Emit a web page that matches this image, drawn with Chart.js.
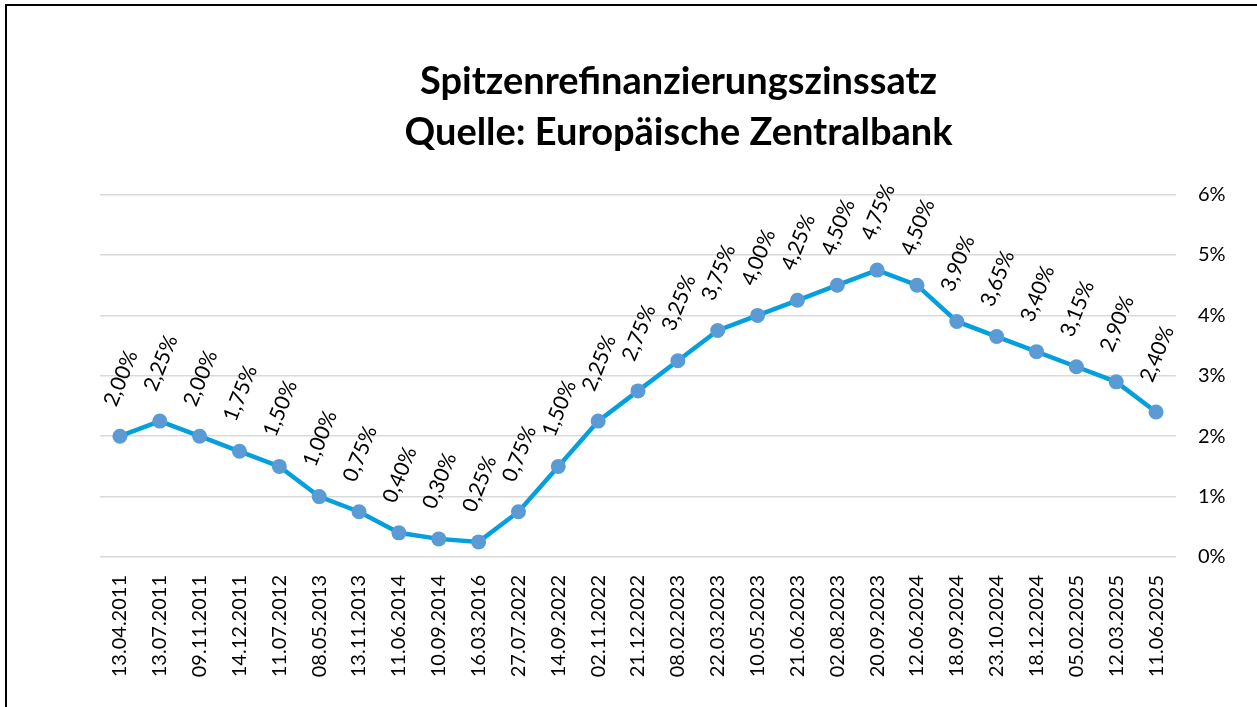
<!DOCTYPE html>
<html lang="de">
<head>
<meta charset="utf-8">
<title>Spitzenrefinanzierungszinssatz</title>
<script src="https://cdn.jsdelivr.net/npm/chart.js@4"></script>
<style>
  html, body { margin: 0; padding: 0; background: #fff; overflow: hidden; }
  #frame {
    position: absolute; left: 5px; top: 4px;
    width: 1400px; height: 900px;
    border: 2px solid #000;
  }
  #wrap { position: absolute; left: 0; top: 0; width: 1257px; height: 707px; }
</style>
</head>
<body>
<div id="frame"></div>
<div id="wrap"><canvas id="rate-chart"></canvas></div>
<script>
const dates = [
    "13.04.2011", "13.07.2011", "09.11.2011", "14.12.2011", "11.07.2012",
    "08.05.2013", "13.11.2013", "11.06.2014", "10.09.2014", "16.03.2016",
    "27.07.2022", "14.09.2022", "02.11.2022", "21.12.2022", "08.02.2023",
    "22.03.2023", "10.05.2023", "21.06.2023", "02.08.2023", "20.09.2023",
    "12.06.2024", "18.09.2024", "23.10.2024", "18.12.2024", "05.02.2025",
    "12.03.2025", "11.06.2025"
];
const rates = [
    2.00, 2.25, 2.00, 1.75, 1.50, 1.00, 0.75, 0.40, 0.30, 0.25,
    0.75, 1.50, 2.25, 2.75, 3.25, 3.75, 4.00, 4.25, 4.50, 4.75,
    4.50, 3.90, 3.65, 3.40, 3.15, 2.90, 2.40
];
const titleLines = ["Spitzenrefinanzierungszinssatz", "Quelle: Europäische Zentralbank"];
const yTicks = [0, 1, 2, 3, 4, 5, 6];

const fontFamily = "Lato, 'Open Sans', sans-serif";

// rate labels above each point, tilted like the source sheet
const rateLabels = {
    id: 'rateLabels',
    afterDatasetsDraw(chart) {
        const ctx = chart.ctx;
        const meta = chart.getDatasetMeta(0);
        ctx.save();
        ctx.font = "21px " + fontFamily;
        ctx.fillStyle = '#000';
        ctx.textAlign = 'center';
        ctx.textBaseline = 'middle';
        meta.data.forEach((pt, i) => {
            const txt = rates[i].toFixed(2).replace('.', ',') + '%';
            ctx.save();
            ctx.translate(pt.x + 1, pt.y - 58);
            ctx.rotate(-68 * Math.PI / 180);
            ctx.fillText(txt, 0, 0);
            ctx.restore();
        });
        ctx.restore();
    }
};

new Chart(document.getElementById('rate-chart'), {
    type: 'line',
    data: {
        labels: dates,
        datasets: [{
            data: rates,
            borderColor: '#05a0dc',
            borderWidth: 4.5,
            pointBackgroundColor: '#5b9bd5',
            pointBorderColor: '#5b9bd5',
            pointBorderWidth: 0,
            pointRadius: 7.5,
            tension: 0,
            fill: false
        }]
    },
    options: {
        responsive: true,
        maintainAspectRatio: false,
        animation: false,
        layout: { padding: { top: 56, left: 100, right: 0, bottom: 0 } },
        plugins: {
            legend: { display: false },
            tooltip: { enabled: false },
            title: {
                display: true,
                text: titleLines,
                color: '#000',
                font: { family: fontFamily, size: 38, weight: 'bold', lineHeight: 1.35 },
                padding: { top: 0, bottom: 36 }
            }
        },
        scales: {
            x: {
                offset: true,
                grid: { display: false },
                border: { display: false },
                ticks: {
                    color: '#000',
                    font: { family: fontFamily, size: 20 },
                    minRotation: 90,
                    maxRotation: 90,
                    autoSkip: false,
                    padding: 10
                },
                afterFit(scale) { scale.height = 150; }
            },
            y: {
                position: 'right',
                min: 0,
                max: 6,
                grid: { color: '#d9d9d9', lineWidth: 1.5, drawTicks: false },
                border: { display: false },
                afterBuildTicks(scale) { scale.ticks = yTicks.map(v => ({ value: v })); },
                ticks: {
                    color: '#000',
                    font: { family: fontFamily, size: 20 },
                    padding: 22,
                    callback: v => v + '%'
                },
                afterFit(scale) { scale.width = 81; }
            }
        }
    },
    plugins: [rateLabels]
});
</script>
</body>
</html>
